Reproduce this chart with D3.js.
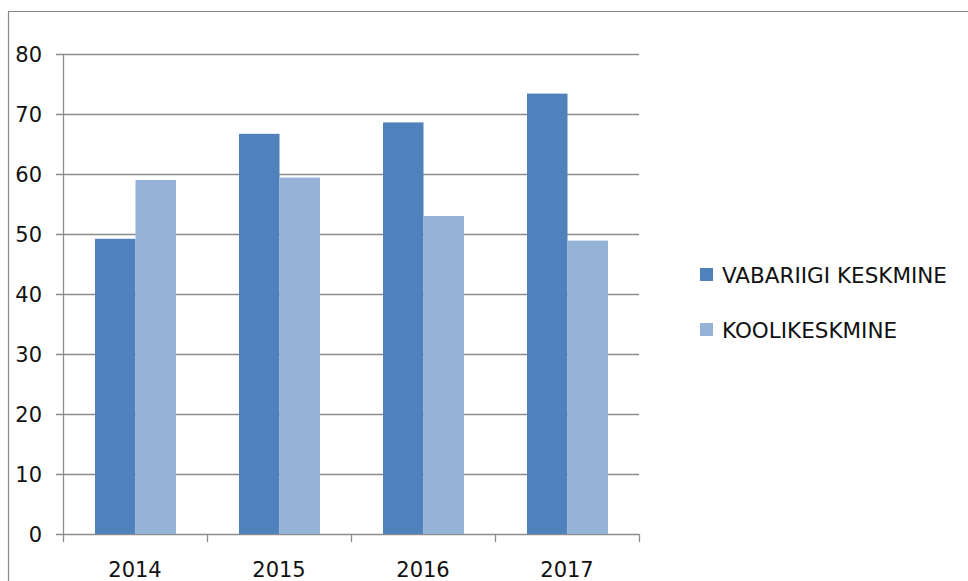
<!DOCTYPE html>
<html><head><meta charset="utf-8">
<script src="https://cdn.jsdelivr.net/npm/d3@7"></script>
<style>body{margin:0;background:#fff}svg{display:block}text{font-family:"DejaVu Sans",sans-serif;fill:#111}</style>
</head><body>
<script>
const categories = ["2014","2015","2016","2017"];
const seriesNames = ["VABARIIGI KESKMINE","KOOLIKESKMINE"];
const vabariigi = [49.2, 66.7, 68.6, 73.4];
const kooli = [59.0, 59.4, 53.0, 48.9];
const yTicks = [0,10,20,30,40,50,60,70,80];
const colors = ["#4F81BD","#95B3D7"];

const W=968,H=581;
const svg=d3.select("body").append("svg").attr("width",W).attr("height",H);
// chart frame
svg.append("path").attr("d","M8.5,"+H+"V11.5H"+W).attr("fill","none").attr("stroke","#898989").attr("stroke-width",1.2);

const x0=d3.scaleBand().domain(categories).range([63,639]).paddingInner(0).paddingOuter(0);
const x1=d3.scaleBand().domain(seriesNames).range([32,x0.bandwidth()-31]);
const y=d3.scaleLinear().domain([0,80]).range([534,54]);

const g=svg.append("g");
// gridlines
g.selectAll(".grid").data(yTicks).join("line")
 .attr("x1",56).attr("x2",639).attr("y1",d=>Math.round(y(d))+0.5).attr("y2",d=>Math.round(y(d))+0.5)
 .attr("stroke","#8c8c8c").attr("stroke-width",1.3);
// y axis line
g.append("line").attr("x1",63.5).attr("x2",63.5).attr("y1",y(80)).attr("y2",y(0)).attr("stroke","#8c8c8c").attr("stroke-width",1.3);
// bars
const data=categories.map((c,i)=>({c,vals:[vabariigi[i],kooli[i]]}));
const grp=g.selectAll(".grp").data(data).join("g").attr("transform",d=>`translate(${x0(d.c)},0)`);
grp.selectAll("rect").data(d=>d.vals.map((v,j)=>({v,s:seriesNames[j],j}))).join("rect")
 .attr("x",d=>x1(d.s)).attr("width",x1.bandwidth()).attr("y",d=>y(d.v)).attr("height",d=>y(0)-y(d.v))
 .attr("fill",d=>colors[d.j]);
// x axis ticks
const xt=[...categories.map(c=>x0(c)),639];
g.selectAll(".xt").data(xt).join("line").attr("x1",d=>Math.round(d)+0.5).attr("x2",d=>Math.round(d)+0.5)
 .attr("y1",534).attr("y2",542).attr("stroke","#8c8c8c").attr("stroke-width",1.3);
// y labels
g.selectAll(".yl").data(yTicks).join("text").attr("x",42).attr("y",d=>y(d)).attr("dy","0.36em")
 .attr("text-anchor","end").attr("font-size",21).text(d=>d);
// x labels
g.selectAll(".xl").data(categories).join("text").attr("x",d=>x0(d)+x0.bandwidth()/2).attr("y",577)
 .attr("text-anchor","middle").attr("font-size",21).text(d=>d);
// legend
const leg=svg.selectAll(".leg").data(seriesNames).join("g").attr("transform",(d,i)=>`translate(700,${268+i*55})`);
leg.append("rect").attr("width",13).attr("height",13).attr("fill",(d,i)=>colors[i]);
leg.append("text").attr("x",22).attr("y",7).attr("dy","0.36em").attr("font-size",21.5).text(d=>d);
</script>
</body></html>
